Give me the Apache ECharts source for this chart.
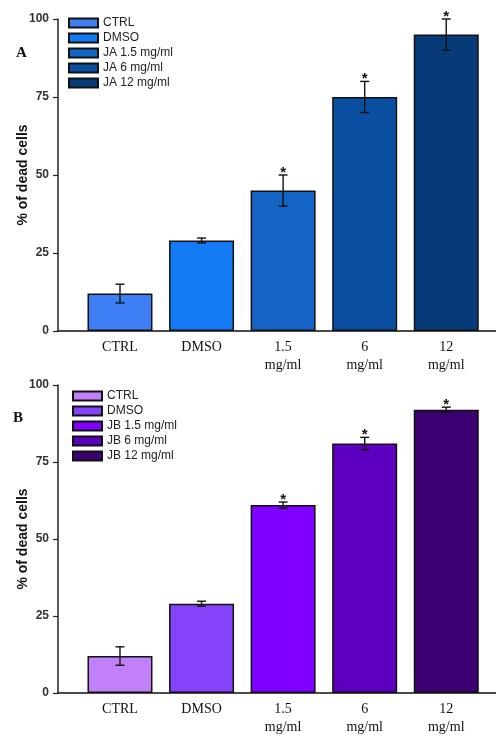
<!DOCTYPE html>
<html>
<head>
<meta charset="utf-8">
<script src="https://cdn.jsdelivr.net/npm/echarts@6/dist/echarts.min.js"></script>
<style>
html,body{margin:0;padding:0;background:#fff;}
#chart{width:496px;height:736px;}
</style>
</head>
<body>
<div id="chart"></div>
<script>
const categories = ['CTRL', 'DMSO', '1.5\nmg/ml', '6\nmg/ml', '12\nmg/ml'];
const namesA = ['CTRL', 'DMSO', 'JA 1.5 mg/ml', 'JA 6 mg/ml', 'JA 12 mg/ml'];
const namesB = ['CTRL', 'DMSO', 'JB 1.5 mg/ml', 'JB 6 mg/ml', 'JB 12 mg/ml'];
const valuesA = [12, 29, 45, 75, 95];
const errorsA = [3, 0.8, 5, 5, 5];
const signifA = [0, 0, 1, 1, 1];
const valuesB = [12, 29, 61, 81, 92];
const errorsB = [3, 0.8, 1, 2, 0.8];
const signifB = [0, 0, 1, 1, 1];
const yTicks = [0, 25, 50, 75, 100];
const colorsA = ['#3f7ff5', '#1479f5', '#1565c6', '#0b4fa3', '#063a78'];
const colorsB = ['#c080f9', '#8443f8', '#8000ff', '#5d00c0', '#3d0072'];
const panelLetters = ['A', 'B'];
const yTitle = '% of dead cells';

const chart = echarts.init(document.getElementById('chart'), null, {renderer: 'canvas'});

const grids = [
  {left: 58, right: 0, top: 19, height: 312},
  {left: 58, right: 0, top: 385, height: 312}
];

function xAxisFor(gi) {
  return {
    type: 'value', gridIndex: gi, min: -0.76, max: 4.61,
    axisLine: {show: true, onZero: false, lineStyle: {color: '#111', width: 1.5}},
    axisTick: {show: false},
    splitLine: {show: false},
    axisLabel: {
      customValues: categories.map((c, i) => i),
      formatter: v => categories[Math.round(v)],
      fontFamily: 'Liberation Serif', fontSize: 14, color: '#111',
      lineHeight: 18, margin: 7
    }
  };
}
function yAxisFor(gi) {
  return {
    type: 'value', gridIndex: gi, min: yTicks[0], max: yTicks[yTicks.length - 1], interval: 25,
    axisLine: {show: true, onZero: false, lineStyle: {color: '#222', width: 1.5}},
    axisTick: {show: true, length: 5, lineStyle: {color: '#222', width: 1.2}},
    splitLine: {show: false},
    axisLabel: {fontFamily: 'Liberation Sans', fontWeight: 'bold', fontSize: 12, color: '#333', margin: 9},
    name: yTitle, nameLocation: 'middle', nameGap: 28, nameMoveOverlap: false,
    nameTextStyle: {fontFamily: 'Liberation Sans', fontWeight: 'bold', fontSize: 14, color: '#111'}
  };
}

const series = [];
function addPanel(gi, prefix, names, values, errors, signif, colors) {
  names.forEach((n, i) => {
    series.push({
      type: 'bar', name: prefix + '|' + n, xAxisIndex: gi, yAxisIndex: gi,
      barWidth: 65, barGap: '-100%',
      itemStyle: {color: colors[i], borderColor: '#111', borderWidth: 1.5},
      data: [[i, values[i]]]
    });
  });
  series.push({
    type: 'custom', xAxisIndex: gi, yAxisIndex: gi, z: 5,
    data: values.map((v, i) => [i, v - errors[i], v + errors[i], signif[i]]),
    encode: {x: 0, y: [1, 2]},
    renderItem: function (params, api) {
      const x = api.value(0), lo = api.value(1), hi = api.value(2), s = api.value(3);
      const p1 = api.coord([x, lo]), p2 = api.coord([x, hi]);
      const st = {stroke: '#111', lineWidth: 1.4};
      const w = 4.5;
      const ch = [
        {type: 'line', shape: {x1: p1[0], y1: p1[1], x2: p2[0], y2: p2[1]}, style: st},
        {type: 'line', shape: {x1: p1[0] - w, y1: p1[1], x2: p1[0] + w, y2: p1[1]}, style: st},
        {type: 'line', shape: {x1: p2[0] - w, y1: p2[1], x2: p2[0] + w, y2: p2[1]}, style: st}
      ];
      if (s) {
        ch.push({type: 'text', style: {text: '*', x: p2[0], y: p2[1] + 5, align: 'center', verticalAlign: 'bottom',
          font: 'bold 15px "Liberation Sans"', fill: '#111'}});
      }
      return {type: 'group', children: ch};
    }
  });
}
addPanel(0, 'A', namesA, valuesA, errorsA, signifA, colorsA);
addPanel(1, 'B', namesB, valuesB, errorsB, signifB, colorsB);

function legendFor(prefix, names, left, top) {
  return {
    orient: 'vertical', left: left, top: top, itemWidth: 29, itemHeight: 9, itemGap: 1,
    icon: 'rect', selectedMode: false,
    data: names.map(n => prefix + '|' + n),
    formatter: name => name.split('|')[1],
    textStyle: {fontFamily: 'Liberation Sans', fontSize: 12, color: '#222', lineHeight: 14}
  };
}

chart.setOption({
  animation: false,
  backgroundColor: '#fff',
  grid: grids,
  xAxis: [xAxisFor(0), xAxisFor(1)],
  yAxis: [yAxisFor(0), yAxisFor(1)],
  legend: [legendFor('A', namesA, 63, 11), legendFor('B', namesB, 67, 384)],
  graphic: [
    {type: 'text', left: 16, top: 46, style: {text: panelLetters[0], font: 'bold 15px "Liberation Serif"', fill: '#111'}},
    {type: 'text', left: 13, top: 411, style: {text: panelLetters[1], font: 'bold 15px "Liberation Serif"', fill: '#111'}}
  ],
  series: series
});
</script>
</body>
</html>
